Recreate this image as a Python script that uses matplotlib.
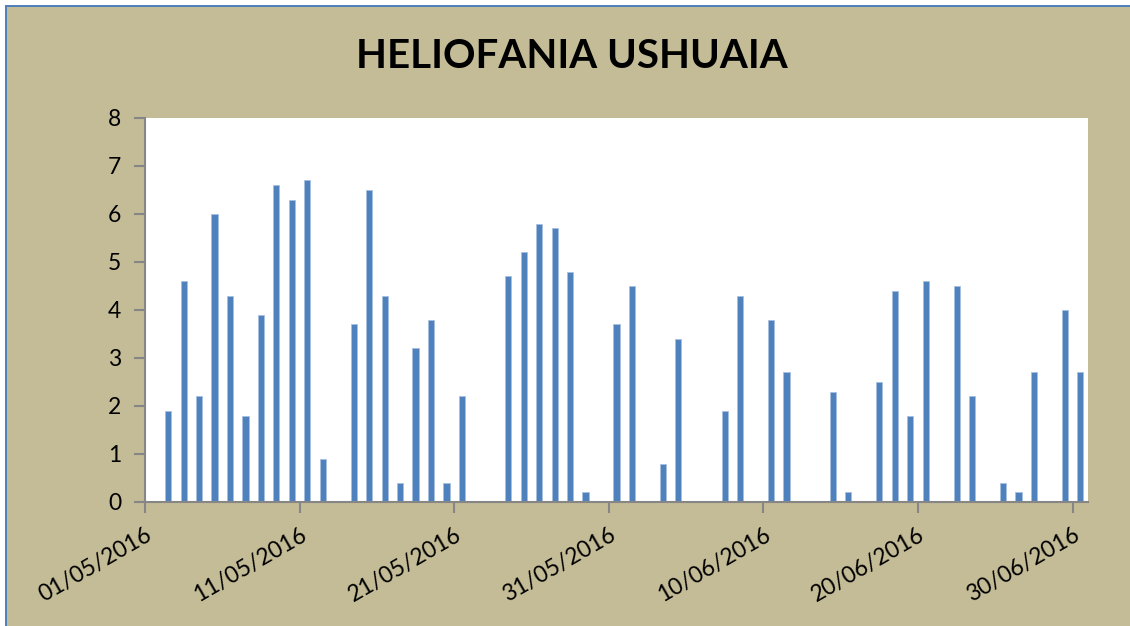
import matplotlib
matplotlib.use("Agg")
import matplotlib.pyplot as plt
from matplotlib.patches import Rectangle
from matplotlib.transforms import ScaledTranslation
import numpy as np
import datetime as dt

title = "HELIOFANIA USHUAIA"
start = dt.date(2016, 5, 1)
n_days = 61
values = [0, 1.9, 4.6, 2.2, 6.0, 4.3, 1.8, 3.9, 6.6, 6.3,
          6.7, 0.9, 0, 3.7, 6.5, 4.3, 0.4, 3.2, 3.8, 0.4,
          2.2, 0, 0, 4.7, 5.2, 5.8, 5.7, 4.8, 0.2, 0,
          3.7, 4.5, 0, 0.8, 3.4, 0, 0, 1.9, 4.3, 0,
          3.8, 2.7, 0, 0, 2.3, 0.2, 0, 2.5, 4.4, 1.8,
          4.6, 0, 4.5, 2.2, 0, 0.4, 0.2, 2.7, 0, 4.0,
          2.7]
dates = [start + dt.timedelta(days=i) for i in range(n_days)]
tick_idx = list(range(0, n_days, 10))
tick_labels = [dates[i].strftime("%d/%m/%Y") for i in tick_idx]
yticks = [0, 1, 2, 3, 4, 5, 6, 7, 8]

plt.rcParams['font.family'] = ['Lato', 'DejaVu Sans']
W, H = 1130, 626
fig = plt.figure(figsize=(W / 100, H / 100), dpi=100)
bg = '#C4BC96'
fig.patch.set_facecolor(bg)
# border lines (left and top)
fig.patches.append(Rectangle((5 / W, 0), 2 / W, 1 - 5 / H, transform=fig.transFigure,
                             facecolor='#4F81BD', edgecolor='none'))
fig.patches.append(Rectangle((5 / W, 1 - 7 / H), 1 - 5 / W, 2 / H, transform=fig.transFigure,
                             facecolor='#4F81BD', edgecolor='none'))
fig.patches.append(Rectangle((0, 0), 5 / W, 1, transform=fig.transFigure,
                             facecolor='white', edgecolor='none'))
fig.patches.append(Rectangle((0, 1 - 5 / H), 1, 5 / H, transform=fig.transFigure,
                             facecolor='white', edgecolor='none'))

ax = fig.add_axes([145 / W, (H - 502) / H, (1088 - 145) / W, (502 - 118) / H])
ax.set_facecolor('white')
x = np.arange(n_days) + 0.5
ax.bar(x, values, width=0.4, color='#4F81BD', edgecolor='#A7C0E0', linewidth=0.6)
ax.set_xlim(0, n_days)
ax.set_ylim(0, 8)
ax.set_yticks(yticks)
ax.set_yticklabels([str(v) for v in yticks], fontsize=16.5)
ax.set_xticks(tick_idx)
ax.set_xticklabels(tick_labels, rotation=30, ha='right', va='top',
                   rotation_mode='anchor', fontsize=16.5)
off = ScaledTranslation(-8 / 100, -13 / 100, fig.dpi_scale_trans)
for lab in ax.get_xticklabels():
    lab.set_transform(lab.get_transform() + off)
for s in ['top', 'right']:
    ax.spines[s].set_visible(False)
for s in ['left', 'bottom']:
    ax.spines[s].set_color('#868686')
    ax.spines[s].set_linewidth(1.5)
ax.tick_params(axis='both', colors='#868686', length=8, width=1.5, labelcolor='black')
ax.tick_params(axis='y', pad=9)
ax.tick_params(axis='x', pad=8)

fig.text(572 / W, 1 - 57 / H, title, ha='center', va='center', fontsize=29,
         fontweight='bold', color='black')

fig.savefig('out.png', dpi=100, facecolor=fig.get_facecolor())
